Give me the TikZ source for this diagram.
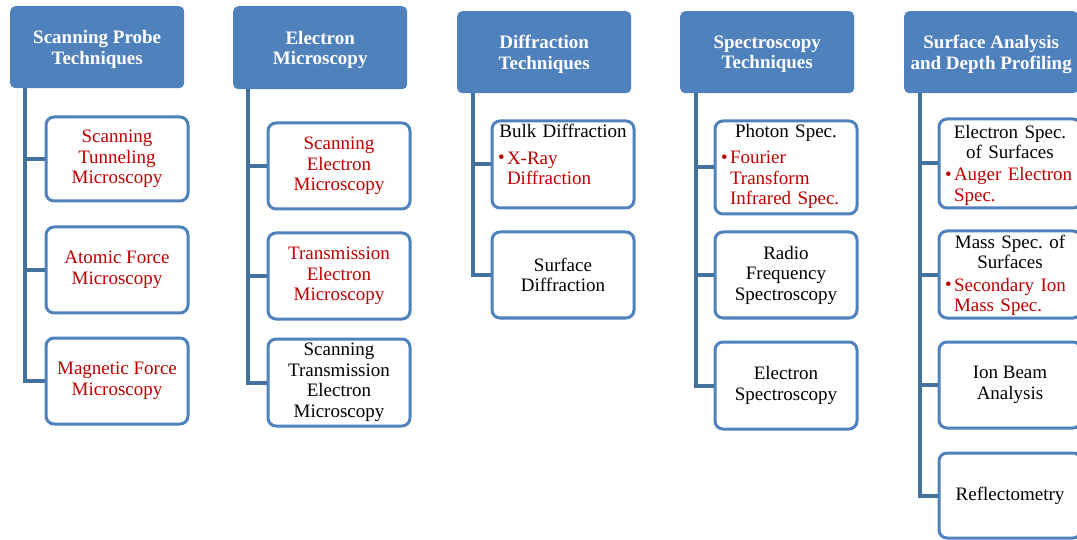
\documentclass[tikz,border=0pt]{standalone}
\usepackage{fontspec}
\setmainfont{Liberation Serif}
\usetikzlibrary{backgrounds}
\definecolor{hdr}{HTML}{4F81BD}
\definecolor{bdr}{HTML}{4F81BD}
\definecolor{lnk}{HTML}{41719C}
\definecolor{hred}{HTML}{C00000}
\frenchspacing
% bulleted sub-entry: bullet in a fixed box, lines stacked flush left after it
\newcommand\bul[1]{\raggedright\noindent
  \textcolor{hred}{\makebox[9pt][l]{\fontsize{19}{19}\selectfont\raisebox{0.5pt}{•}}%
  \begin{tabular}[t]{@{}l@{}}#1\end{tabular}}\par}
\begin{document}
\begin{tikzpicture}[x=1pt,y=-1pt,
  head/.style={fill=hdr, rounded corners=5pt, text=white, anchor=north west,
    font=\bfseries\fontsize{19}{20.5}\selectfont, align=center, inner sep=1pt,
    text depth=0pt, minimum width=174pt, minimum height=82pt},
  item/.style={draw=bdr, line width=3pt, fill=white, rounded corners=8pt,
    anchor=north west, align=center, inner sep=0pt, minimum width=142pt,
    font=\fontsize{19}{20.5}\selectfont},
  bitem/.style={item, text width=130pt},
  red/.style={text=hred},
  link/.style={draw=lnk, line width=4pt, line join=miter}]
\useasboundingbox (0,0) rectangle (1077,540);
\clip (0,0) rectangle (1077,540);

% Scanning probe techniques
\node[head] (h1) at (10,6) {Scanning Probe\\Techniques};
\node[item, red, minimum height=84pt] (a1) at (44.5,115.5) {Scanning\\Tunneling\\Microscopy};
\node[item, red, minimum height=86pt] (a2) at (44.5,225.5) {Atomic Force\\Microscopy};
\node[item, red, minimum height=86pt] (a3) at (44.5,336.5) {Magnetic Force\\Microscopy};

% Electron microscopy
\node[head, minimum height=83pt] (h2) at (233,6) {Electron\\Microscopy};
\node[item, red, minimum height=86pt] (b1) at (266.5,121.5) {Scanning\\Electron\\Microscopy};
\node[item, red, minimum height=86pt] (b2) at (266.5,231.5) {Transmission\\Electron\\Microscopy};
\node[item, minimum height=87pt] (b3) at (266.5,337.5) {Scanning\\Transmission\\Electron\\Microscopy};

% Diffraction techniques
\node[head] (h3) at (457,11) {Diffraction\\Techniques};
\node[bitem, minimum height=87pt] (c1) at (490.5,119.5)
  {Bulk Diffraction\par\vspace{6pt}\bul{X-Ray\\Diffraction}\kern14pt\hrule height 0pt};
\node[item, minimum height=86pt] (c2) at (490.5,230.5) {Surface\\Diffraction};

% Spectroscopy techniques
\node[head] (h4) at (680,11) {Spectroscopy\\Techniques};
\node[bitem, minimum height=93pt] (d1) at (713.5,119.5)
  {Photon Spec.\par\vspace{6pt}\bul{Fourier\\Transform\\Infrared Spec.}};
\node[item, minimum height=86pt] (d2) at (713.5,230.5) {Radio\\Frequency\\Spectroscopy};
\node[item, minimum height=87pt] (d3) at (713.5,340.5) {Electron\\Spectroscopy};

% Surface analysis and depth profiling
\node[head] (h5) at (904,11) {Surface Analysis\\and Depth Profiling};
\node[bitem, minimum height=89pt] (e1) at (937.5,117.5)
  {\hrule height 0pt\kern5pt Electron Spec.\\of Surfaces\par\vspace{1.5pt}\bul{Auger Electron\\Spec.}};
\node[bitem, minimum height=87pt] (e2) at (937.5,229.5)
  {\hrule height 0pt\kern4pt Mass Spec. of\\Surfaces\par\vspace{2pt}\bul{Secondary Ion\\Mass Spec.}};
\node[item, minimum height=86pt] (e3) at (937.5,340.5) {Ion Beam\\Analysis};
\node[item, minimum height=85pt] (e4) at (937.5,451.5) {Reflectometry};

% connectors: a trunk under each heading with a branch to every entry
\begin{pgfonlayer}{background}
  \coordinate (t1) at ([xshift=15pt]h1.south west);
  \coordinate (t2) at ([xshift=15pt]h2.south west);
  \coordinate (t3) at ([xshift=16pt]h3.south west);
  \coordinate (t4) at ([xshift=16pt]h4.south west);
  \coordinate (t5) at ([xshift=16pt]h5.south west);
  \draw[link] (t1) |- (a3.west);
  \draw[link] (t1 |- a1.west) -- (a1.west);
  \draw[link] (t1 |- a2.west) -- (a2.west);
  \draw[link] (t2) |- (b3.west);
  \draw[link] (t2 |- b1.west) -- (b1.west);
  \draw[link] (t2 |- b2.west) -- (b2.west);
  \draw[link] (t3) |- (c2.west);
  \draw[link] (t3 |- c1.west) -- (c1.west);
  \draw[link] (t4) |- (d3.west);
  \draw[link] (t4 |- d1.west) -- (d1.west);
  \draw[link] (t4 |- d2.west) -- (d2.west);
  \draw[link] (t5) |- (e4.west);
  \draw[link] (t5 |- e1.west) -- (e1.west);
  \draw[link] (t5 |- e2.west) -- (e2.west);
  \draw[link] (t5 |- e3.west) -- (e3.west);
\end{pgfonlayer}
\end{tikzpicture}
\end{document}
